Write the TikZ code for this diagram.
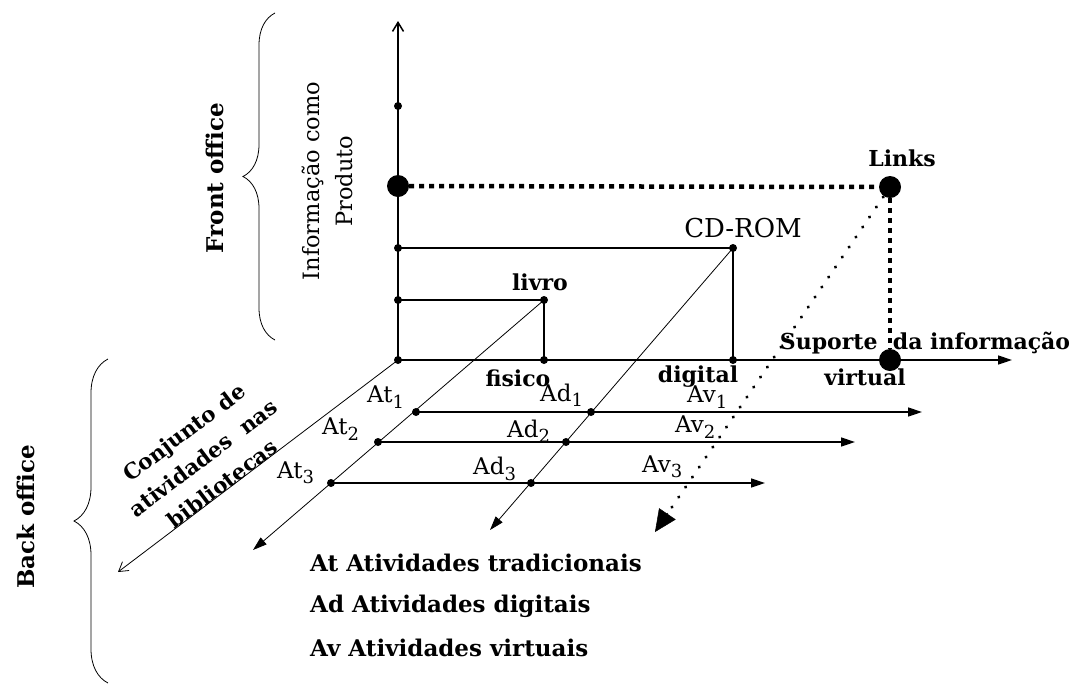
\documentclass[tikz,border=0pt]{standalone}
\usepackage{fontspec}
\setmainfont{DejaVu Serif}
\usetikzlibrary{arrows.meta,decorations.pathreplacing,calc}
\newcommand\sbs[1]{\raisebox{-0.45ex}{\fontsize{18}{18}\selectfont #1}}
\begin{document}
\begin{tikzpicture}[x=1pt,y=-1pt,
  sdot/.style={circle,fill,inner sep=0pt,minimum size=8pt},
  bdot/.style={circle,fill,inner sep=0pt,minimum size=22pt},
  axisline/.style={line width=1.5pt},
  diagline/.style={line width=0.8pt},
  rowline/.style={line width=1.5pt},
  bigdots/.style={line width=4.5pt,dash pattern=on 5pt off 5pt},
  smalldots/.style={line width=3.4pt,line cap=round,dash pattern=on 0.1pt off 12pt},
  ftip/.style={-{Triangle[length=14pt,width=9pt]}},
  otip/.style={-{Straight Barb[length=9pt,width=11pt]}},
  bl/.style={font=\fontsize{22}{26}\selectfont\bfseries,inner sep=0pt},
  rl/.style={font=\fontsize{23}{27}\selectfont,inner sep=0pt},
  legend/.style={font=\fontsize{23}{27}\selectfont\bfseries,inner sep=0pt,anchor=west},
  bracestyle/.style={decorate,decoration={brace,amplitude=#1},line width=0.8pt}
]
\useasboundingbox (0,0) rectangle (1086,686);
% axes nodes
\node[sdot] (O) at (398,360) {};
\node[sdot] (V1) at (398,106) {};
\node[bdot] (V2) at (398,186) {};
\node[sdot] (V3) at (398,248) {};
\node[sdot] (V4) at (398,300) {};
\coordinate (vtop) at (398,21);
\node[sdot] (H1) at (544,360) {};
\node[sdot] (H2) at (733,360) {};
\node[bdot] (H3) at (890,360) {};
\coordinate (htip) at (1012,360);
\node[sdot] (livro) at (544,300) {};
\node[sdot] (cd) at (733,248) {};
\node[bdot] (links) at (890,187) {};
% diagonal tips
\coordinate (d0) at (118,572);
\coordinate (d1) at (253,550);
\coordinate (d2) at (490,530);
\coordinate (d3) at (655,532);
\coordinate (d3s) at ($(links.center)!0.93!(d3)$);
\coordinate (d3t) at ($(links.center)!0.945!(d3)$);
% row dots
\node[sdot] (t1) at (416,412) {};
\node[sdot] (t2) at (378,442) {};
\node[sdot] (t3) at (331,483) {};
\node[sdot] (a1) at (591,412) {};
\node[sdot] (a2) at (566,442) {};
\node[sdot] (a3) at (531,483) {};
\coordinate (r1) at (922,412);
\coordinate (r2) at (855,442);
\coordinate (r3) at (765,483);

% axes
\draw[axisline,otip] (O.center) -- (vtop);
\draw[axisline,ftip] (O.center) -- (htip);
\draw[diagline,otip] (O.center) -- (d0);
% rectangles
\draw[axisline] (V4.center) -- (livro.center) -- (H1.center);
\draw[axisline] (V3.center) -- (cd.center) -- (H2.center);
\draw[bigdots] (V2.east) -- (links.west);
\draw[bigdots] (links.south) -- (H3.north);
% diagonals
\draw[diagline,ftip] (livro.center) -- (d1);
\draw[diagline,ftip] (cd.center) -- (d2);
\draw[smalldots] (links.center) -- (d3s);
\draw[-{Triangle[length=22pt,width=20pt]},line width=0.5pt] (d3t) -- (d3);
% rows
\draw[rowline,ftip] (t1.center) -- (r1);
\draw[rowline,ftip] (t2.center) -- (r2);
\draw[rowline,ftip] (t3.center) -- (r3);

% labels
\node[bl] (llivro) at (540,282) {livro};
\node[font=\fontsize{26}{30}\selectfont,inner sep=0pt] (lcd) at (743,228) {CD-ROM};
\node[bl] (llinks) at (902,158) {Links};
\node[bl] (lfis) at (518,378) {fisico};
\node[bl] (ldig) at (698,377) {digital};
\node[bl] (lvir) at (865,377) {virtual};
\node[bl] (lsup) at (925,343) {Suporte\ \ da informação};
\node[rl,anchor=west] (lt1) at (367,397) {At\sbs{1}};
\node[rl,anchor=west] (lt2) at (322,429) {At\sbs{2}};
\node[rl,anchor=west] (lt3) at (277,473) {At\sbs{3}};
\node[rl,anchor=west] (la1) at (540,395) {Ad\sbs{1}};
\node[rl,anchor=west] (la2) at (507,431) {Ad\sbs{2}};
\node[rl,anchor=west] (la3) at (473,469) {Ad\sbs{3}};
\node[rl,anchor=west] (lv1) at (687,397) {Av\sbs{1}};
\node[rl,anchor=west] (lv2) at (675,427) {Av\sbs{2}};
\node[rl,anchor=west] (lv3) at (642,467) {Av\sbs{3}};

\node[font=\fontsize{22.5}{33}\selectfont,inner sep=0pt,rotate=90,align=center] (linfo) at (327,181) {Informação como\\Produto};
\node[font=\fontsize{23}{27}\selectfont\bfseries,inner sep=0pt,rotate=90] (lfront) at (215,178) {Front office};
\node[font=\fontsize{23}{27}\selectfont\bfseries,inner sep=0pt,rotate=90] (lback) at (26,517) {Back office};
\node[font=\fontsize{21.5}{32}\selectfont\bfseries,inner sep=0pt,rotate=37,align=center] (lconj) at (203,458) {Conjunto de\\atividades\ \ nas\\bibliotecas};

\node[legend] (leg1) at (310,563) {At Atividades tradicionais};
\node[legend] (leg2) at (310,606) {Ad Atividades digitais};
\node[legend] (leg3) at (310,648) {Av Atividades virtuais};

% braces
\coordinate (fb1) at (275,340);
\coordinate (fb2) at (275,13);
\coordinate (bb1) at (108,683);
\coordinate (bb2) at (108,359);
\draw[bracestyle=32pt] (fb1) -- (fb2);
\draw[bracestyle=34pt] (bb1) -- (bb2);
\end{tikzpicture}
\end{document}
